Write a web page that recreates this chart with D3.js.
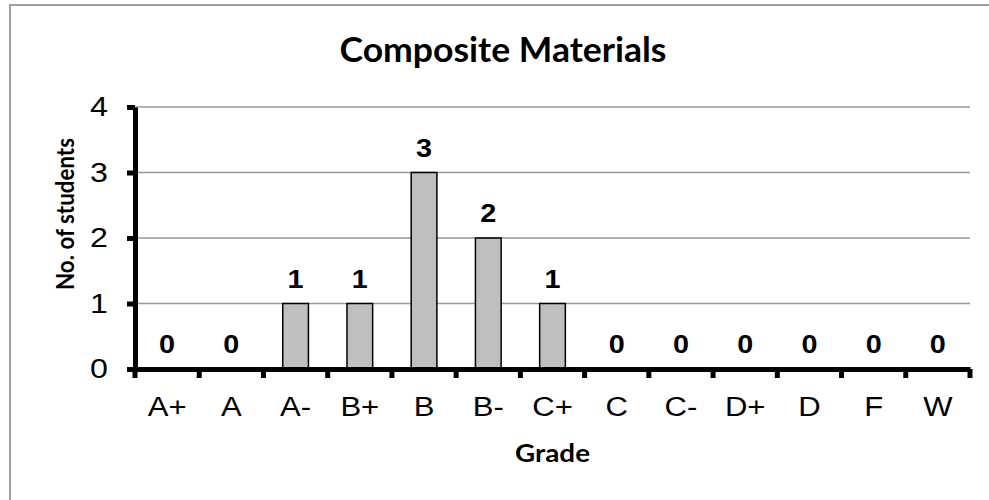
<!DOCTYPE html>
<html>
<head>
  <meta charset="utf-8">
  <script src="https://d3js.org/d3.v7.min.js"></script>
  <style>
    body { margin: 0; background: #fff; }
  </style>
</head>
<body>
  <div id="chart"></div>
  <script>
    "use strict"

    // dados
    var notas = ["A+", "A", "A-", "B+", "B", "B-", "C+", "C", "C-", "D+", "D", "F", "W"];
    var alunos = [0, 0, 1, 1, 3, 2, 1, 0, 0, 0, 0, 0, 0];
    var ticksY = [0, 1, 2, 3, 4];

    var larguraSVG = 989, alturaSVG = 500;
    var margin = {top: 107, right: 19, bottom: 131, left: 135};
    var larguraVis = larguraSVG - margin.left - margin.right,
        alturaVis = alturaSVG - margin.top - margin.bottom;

    var fonteArial = '"Liberation Sans", Arial, sans-serif';
    var fonteTitulo = 'Lato, sans-serif';

    // o grafico original e um pouco esticado na horizontal
    function estica(sel, fator) {
      sel.each(function () {
        var w = this.getComputedTextLength();
        d3.select(this)
          .attr('textLength', w * fator)
          .attr('lengthAdjust', 'spacingAndGlyphs');
      });
    }

    var svg = d3.select('#chart').append('svg')
      .attr('width', larguraSVG)
      .attr('height', alturaSVG);

    // moldura
    svg.append('rect')
      .attr('x', 10).attr('y', 5)
      .attr('width', 990).attr('height', 510)
      .attr('fill', 'none')
      .attr('stroke', '#a0a0a0')
      .attr('stroke-width', 2);

    var grafico = svg.append('g')
      .attr('transform', 'translate(' + margin.left + ',' + margin.top + ')');

    var x = d3.scaleBand()
      .domain(notas)
      .range([0, larguraVis])
      .paddingInner(0.6)
      .paddingOuter(0.3);

    var y = d3.scaleLinear()
      .domain([0, 4])
      .range([alturaVis, 0]);

    // linhas de grade
    grafico.selectAll('.grade')
      .data(ticksY.filter(d => d > 0))
      .enter().append('line')
      .attr('x1', 0).attr('x2', larguraVis)
      .attr('y1', d => y(d)).attr('y2', d => y(d))
      .attr('stroke', '#999')
      .attr('stroke-width', 1.5);

    // barras
    grafico.selectAll('.barra')
      .data(alunos)
      .enter().append('rect')
      .attr('x', (d, i) => x(notas[i]))
      .attr('y', d => y(d))
      .attr('width', x.bandwidth())
      .attr('height', d => alturaVis - y(d))
      .attr('fill', '#bfbfbf')
      .attr('stroke', '#000')
      .attr('stroke-width', d => d > 0 ? 1.5 : 0);

    // rotulos dos valores
    grafico.selectAll('.valor')
      .data(alunos)
      .enter().append('text')
      .attr('x', (d, i) => x(notas[i]) + x.bandwidth() / 2)
      .attr('y', d => y(d) - 16)
      .attr('text-anchor', 'middle')
      .style('font-family', fonteArial)
      .style('font-weight', 'bold')
      .style('font-size', '25px')
      .text(d => d)
      .call(estica, 1.15);

    // eixo y
    var eixoY = grafico.append('g')
      .call(d3.axisLeft(y).tickValues(ticksY).tickFormat(d3.format('d'))
        .tickSize(8).tickSizeOuter(0).tickPadding(19));
    eixoY.select('.domain').attr('stroke-width', 5);
    eixoY.selectAll('.tick line').attr('stroke-width', 5);
    eixoY.selectAll('.tick text')
      .style('font-family', fonteArial)
      .style('font-size', '28px')
      .attr('fill', '#000')
      .call(estica, 1.15);

    // eixo x
    var eixoX = grafico.append('g')
      .attr('transform', 'translate(0,' + alturaVis + ')')
      .call(d3.axisBottom(x).tickSize(0).tickSizeOuter(0).tickPadding(28));
    eixoX.select('.domain').attr('stroke-width', 5);
    eixoX.selectAll('.tick text')
      .style('font-family', fonteArial)
      .style('font-size', '27px')
      .attr('fill', '#000')
      .call(estica, 1.15);

    // marcas entre as categorias
    grafico.selectAll('.marcaX')
      .data(d3.range(notas.length + 1))
      .enter().append('line')
      .attr('x1', i => i * x.step()).attr('x2', i => i * x.step())
      .attr('y1', alturaVis).attr('y2', alturaVis + 9)
      .attr('stroke', '#000')
      .attr('stroke-width', 5);

    // titulos
    svg.append('text')
      .attr('x', 503).attr('y', 62)
      .attr('text-anchor', 'middle')
      .attr('textLength', 327)
      .attr('lengthAdjust', 'spacingAndGlyphs')
      .style('font-family', fonteTitulo)
      .style('font-weight', 'bold')
      .style('font-size', '35px')
      .text('Composite Materials');

    svg.append('text')
      .attr('x', margin.left + larguraVis / 2).attr('y', 462)
      .attr('text-anchor', 'middle')
      .attr('textLength', 75)
      .attr('lengthAdjust', 'spacingAndGlyphs')
      .style('font-family', fonteTitulo)
      .style('font-weight', 'bold')
      .style('font-size', '25px')
      .text('Grade');

    svg.append('text')
      .attr('transform', 'translate(74,214) rotate(-90)')
      .attr('text-anchor', 'middle')
      .attr('textLength', 152)
      .attr('lengthAdjust', 'spacingAndGlyphs')
      .style('font-family', fonteTitulo)
      .style('font-weight', 'bold')
      .style('font-size', '25px')
      .text('No. of students');
  </script>
</body>
</html>
